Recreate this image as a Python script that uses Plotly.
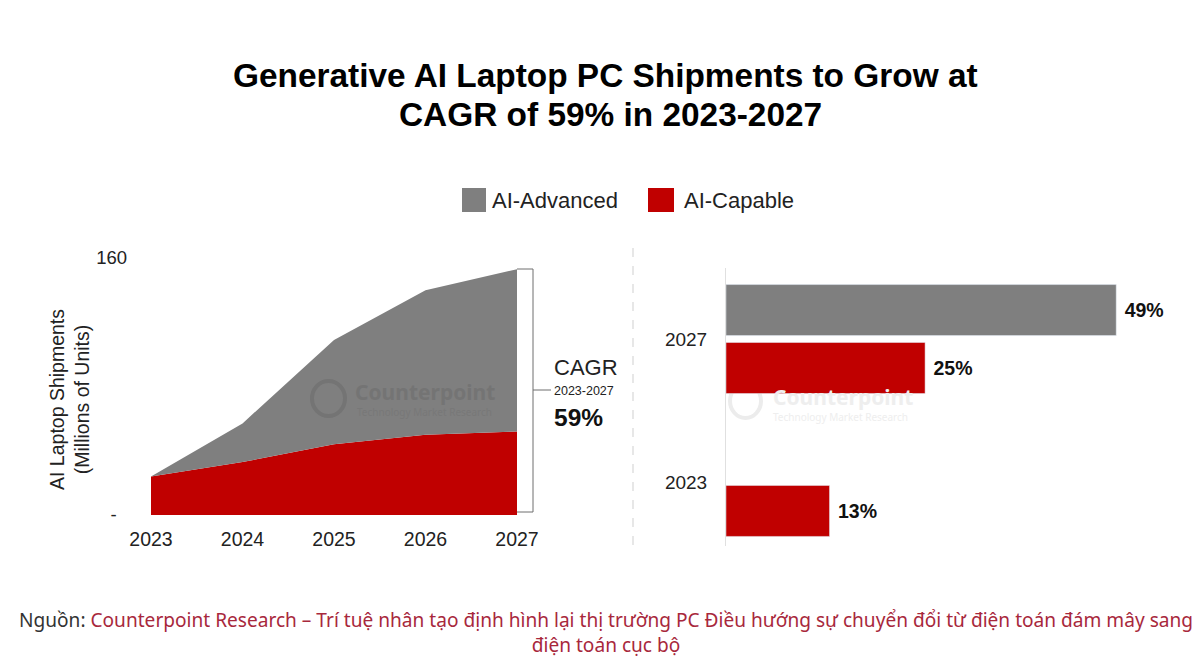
import plotly.graph_objects as go

# page body has an 8px margin, so the figure is 8px short of the window both ways
PAGE_W, PAGE_H = 1200, 662
BODY = 8
W, H = PAGE_W - BODY, PAGE_H - BODY

years = [2023, 2024, 2025, 2026, 2027]
ai_capable = [24, 33, 44, 50, 52]
ai_advanced = [0, 24, 65, 90, 101]

bar_years = ["2023", "2027"]
bar_capable = [13, 25]
bar_advanced = [None, 49]

GRAY = "#7f7f7f"
RED = "#c00000"
FONT = "Liberation Sans"


def px(x):
    return (x - BODY) / W


def py(y):
    return 1 - (y - BODY) / H


fig = go.Figure()

# left panel, stacked area
fig.add_trace(go.Scatter(x=years, y=ai_capable, name="AI-Capable", mode="lines", stackgroup="one",
                         line=dict(width=0, color=RED), fillcolor=RED, showlegend=False))
fig.add_trace(go.Scatter(x=years, y=ai_advanced, name="AI-Advanced", mode="lines", stackgroup="one",
                         line=dict(width=0, color=GRAY), fillcolor=GRAY, showlegend=False))

# right panel, grouped bars (first trace sits at the bottom of each group)
bar_font = dict(family=FONT, size=19.5, color="#111111", weight="bold")
fig.add_trace(go.Bar(y=bar_years, x=bar_capable, name="AI-Capable", orientation="h", marker_color=RED,
                     text=[f"\u00a0{v}%" for v in bar_capable], textposition="outside", cliponaxis=False,
                     textfont=bar_font, xaxis="x2", yaxis="y2", showlegend=False))
fig.add_trace(go.Bar(y=bar_years, x=bar_advanced, name="AI-Advanced", orientation="h", marker_color=GRAY,
                     text=[None if v is None else f"\u00a0{v}%" for v in bar_advanced], textposition="outside",
                     cliponaxis=False, textfont=bar_font, xaxis="x2", yaxis="y2", showlegend=False))

shapes = [
    # legend swatches
    dict(type="rect", xref="paper", yref="paper", x0=px(462), x1=px(486), y0=py(188), y1=py(212),
         fillcolor=GRAY, line_width=0),
    dict(type="rect", xref="paper", yref="paper", x0=px(648), x1=px(674), y0=py(188), y1=py(212),
         fillcolor=RED, line_width=0),
    # panel divider
    dict(type="line", xref="paper", yref="paper", x0=px(633), x1=px(633), y0=py(248), y1=py(546),
         line=dict(color="#cfcfcf", width=1, dash="dash")),
    # CAGR bracket
    dict(type="path", xref="paper", yref="paper",
         path=f"M {px(517)} {py(269)} L {px(533)} {py(269)} L {px(533)} {py(512)} L {px(517)} {py(512)}",
         line=dict(color="#6e6e6e", width=1)),
    dict(type="line", xref="paper", yref="paper", x0=px(533), x1=px(551), y0=py(390), y1=py(390),
         line=dict(color="#6e6e6e", width=1)),
    # watermark rings
    dict(type="circle", xref="paper", yref="paper", x0=px(312), x1=px(345), y0=py(381), y1=py(416),
         line=dict(color="#747474", width=4)),
    dict(type="circle", xref="paper", yref="paper", x0=px(730), x1=px(761), y0=py(384), y1=py(418),
         line=dict(color="#ececec", width=4), layer="below"),
]


def note(x, y, text, size, color="#111111", anchor="left", family=FONT, **kw):
    return dict(xref="paper", yref="paper", x=px(x), y=py(y), text=text, showarrow=False, xanchor=anchor,
                yanchor="middle", font=dict(family=family, size=size, color=color), **kw)


annotations = [
    note(605, 75, "<b>Generative AI Laptop PC Shipments to Grow at</b>", 33.4, "#000000", "center"),
    note(610, 115, "<b>CAGR of 59% in 2023-2027</b>", 33.4, "#000000", "center"),
    note(490, 200, "AI-Advanced", 22, "#222222"),
    note(682, 200, "AI-Capable", 22, "#222222"),
    note(69, 400, "AI Laptop Shipments<br>(Millions of Units)", 19.5, "#222222", "center", textangle=-90),
    note(552, 367, "CAGR", 22, "#222222"),
    note(552, 391, "2023-2027", 12.5, "#222222"),
    note(552, 417, "<b>59%</b>", 24.5, "#111111"),
    note(353, 392, "<b>Counterpoint</b>", 21, "#747474", family="Noto Sans"),
    note(355, 412, "Technology Market Research", 10, "#787878", family="Noto Sans"),
    note(771, 397, "<b>Counterpoint</b>", 21, "#eeeeee", family="Noto Sans"),
    note(771, 417, "Technology Market Research", 10, "#eeeeee", family="Noto Sans"),
    note(606, 632,
         "<span style='color:#333333'>Nguồn: </span>Counterpoint Research – Trí tuệ nhân tạo định hình lại thị trường PC "
         "Điều hướng sự chuyển đổi từ điện toán đám mây sang<br>điện toán cục bộ",
         19.1, "#a8283c", "center", family="Noto Sans"),
]

fig.update_layout(
    width=W, height=H, margin=dict(l=0, r=0, t=0, b=0), autosize=False,
    paper_bgcolor="white", plot_bgcolor="rgba(0,0,0,0)", font=dict(family=FONT, color="#222222"),
    barmode="group", bargap=0.189, bargroupgap=0.12,
    shapes=shapes, annotations=annotations,
    xaxis=dict(domain=[px(151), px(517)], range=[2023, 2027], tickvals=years, showgrid=False, zeroline=False,
               showline=False, ticks="", ticklabelstandoff=10, automargin=False, tickfont=dict(size=19.5, family=FONT)),
    yaxis=dict(domain=[py(515), py(258)], range=[0, 160], tickvals=[0, 160], ticktext=["-\u00a0\u00a0", "160"],
               showgrid=False, zeroline=False, showline=False, ticks="", ticklabelstandoff=23, automargin=False,
               tickfont=dict(size=18.5, family=FONT)),
    xaxis2=dict(domain=[px(726), px(1164)], range=[0, 55], visible=False, anchor="y2", automargin=False),
    yaxis2=dict(domain=[py(546), py(268)], range=[-0.448, 1.497], type="category", categoryorder="array",
                categoryarray=bar_years, anchor="x2", showgrid=False, zeroline=False, showline=True,
                linecolor="#e0e0e0", linewidth=1, ticks="", ticklabelstandoff=14, automargin=False,
                tickfont=dict(size=19, family=FONT)),
)

fig.write_html("out.html")
